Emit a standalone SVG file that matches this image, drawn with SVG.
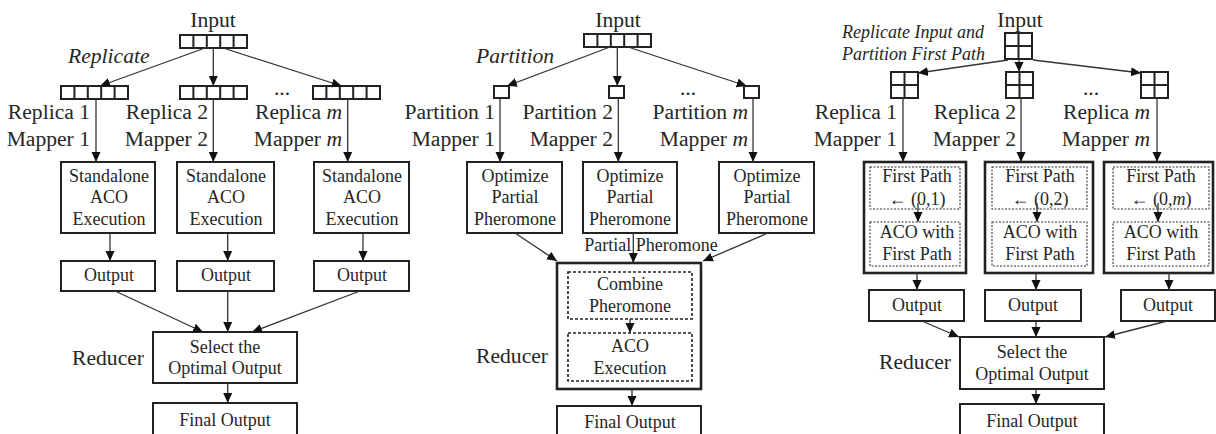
<svg xmlns="http://www.w3.org/2000/svg" width="1216" height="434" viewBox="0 0 1216 434" font-family="'Liberation Serif', 'DejaVu Serif', serif">
  <style>
    text { font-family: 'Liberation Serif', 'DejaVu Serif', serif; fill: #262626; }
    .lbl { font-size: 21.6px; }
    .box-t { font-size: 18px; text-anchor: middle; }
    .it { font-style: italic; }
    .sm { font-size: 18px; }
    .mid { text-anchor: middle; }
    .end { text-anchor: end; }
    .box { fill: #fff; stroke: #222; stroke-width: 2; }
    .outer { fill: #fff; stroke: #222; stroke-width: 2.6; }
    .dash { fill: none; stroke: #222; stroke-width: 1.6; stroke-dasharray: 3 2; }
    .dot { fill: none; stroke: #333; stroke-width: 1.1; stroke-dasharray: 2 1.5; }
    .cell { fill: #fff; stroke: #222; stroke-width: 2; }
    .conn line { stroke: #333; stroke-width: 1.3; marker-end: url(#ah); }
  </style>
  <defs>
    <marker id="ah" viewBox="0 0 10 10" refX="10" refY="5" markerWidth="10" markerHeight="10" markerUnits="userSpaceOnUse" orient="auto">
      <path d="M0,0.5 L10,5 L0,9.5 z" fill="#111"/>
    </marker>
    <!-- five-cell data array -->
    <g id="arr5">
      <rect class="cell" x="0" y="0" width="67" height="13"/>
      <path d="M13.4,0V13M26.8,0V13M40.2,0V13M53.6,0V13" stroke="#222" stroke-width="2" fill="none"/>
    </g>
    <!-- single partition cell -->
    <rect id="sq" class="cell" x="0" y="0" width="15" height="12"/>
    <!-- 2x2 grid -->
    <g id="grid">
      <rect class="cell" x="0" y="0" width="27" height="26"/>
      <path d="M13.5,0V26M0,13H27" stroke="#222" stroke-width="2" fill="none"/>
    </g>
  </defs>

  <!-- ===== Replicate scheme ===== -->
  <g id="p1-input">
    <text class="lbl mid" x="213" y="27">Input</text>
    <use href="#arr5" x="180" y="35"/>
  </g>
  <text id="p1-op" class="lbl it" x="68" y="63">Replicate</text>
  <g id="p1-rep1">
    <use href="#arr5" x="61" y="86"/>
    <text class="lbl end" x="90" y="119">Replica 1</text>
    <text class="lbl end" x="90" y="146">Mapper 1</text>
  </g>
  <g id="p1-rep2">
    <use href="#arr5" x="180" y="86"/>
    <text class="lbl end" x="208" y="119">Replica 2</text>
    <text class="lbl end" x="208" y="146">Mapper 2</text>
  </g>
  <text id="p1-dots" class="lbl mid" x="282" y="95">...</text>
  <g id="p1-repm">
    <use href="#arr5" x="313" y="86"/>
    <text class="lbl end" x="342" y="119">Replica <tspan class="it">m</tspan></text>
    <text class="lbl end" x="342" y="146">Mapper <tspan class="it">m</tspan></text>
  </g>
  <g id="p1-aco1">
    <rect class="box" x="61" y="162" width="94" height="71"/>
    <text class="box-t" x="109" y="182">Standalone</text>
    <text class="box-t" x="109" y="203">ACO</text>
    <text class="box-t" x="109" y="225">Execution</text>
  </g>
  <g id="p1-aco2">
    <rect class="box" x="177" y="162" width="97" height="71"/>
    <text class="box-t" x="226" y="182">Standalone</text>
    <text class="box-t" x="226" y="203">ACO</text>
    <text class="box-t" x="226" y="225">Execution</text>
  </g>
  <g id="p1-aco3">
    <rect class="box" x="314" y="162" width="95" height="71"/>
    <text class="box-t" x="362" y="182">Standalone</text>
    <text class="box-t" x="362" y="203">ACO</text>
    <text class="box-t" x="362" y="225">Execution</text>
  </g>
  <g id="p1-out1"><rect class="box" x="61" y="261" width="94" height="30"/><text class="box-t" x="109" y="281">Output</text></g>
  <g id="p1-out2"><rect class="box" x="177" y="261" width="97" height="30"/><text class="box-t" x="226" y="281">Output</text></g>
  <g id="p1-out3"><rect class="box" x="314" y="261" width="95" height="30"/><text class="box-t" x="362" y="281">Output</text></g>
  <g id="p1-reducer">
    <text class="lbl end" x="144" y="365">Reducer</text>
    <rect class="box" x="153" y="332" width="144" height="51"/>
    <text class="box-t" x="225" y="353">Select the</text>
    <text class="box-t" x="225" y="374">Optimal Output</text>
  </g>
  <g id="p1-final">
    <rect class="box" x="153" y="403" width="144" height="40"/>
    <text class="box-t" x="225" y="426">Final Output</text>
  </g>

  <!-- ===== Partition scheme ===== -->
  <g id="p2-input">
    <text class="lbl mid" x="618" y="27">Input</text>
    <use href="#arr5" x="584" y="34"/>
  </g>
  <text id="p2-op" class="lbl it" x="476" y="63">Partition</text>
  <g id="p2-part1">
    <use href="#sq" x="494" y="86"/>
    <text class="lbl end" x="495" y="119">Partition 1</text>
    <text class="lbl end" x="495" y="146">Mapper 1</text>
  </g>
  <g id="p2-part2">
    <use href="#sq" x="609" y="86"/>
    <text class="lbl end" x="613" y="119">Partition 2</text>
    <text class="lbl end" x="613" y="146">Mapper 2</text>
  </g>
  <text id="p2-dots" class="lbl mid" x="688" y="95">...</text>
  <g id="p2-partm">
    <use href="#sq" x="744" y="86"/>
    <text class="lbl end" x="748" y="119">Partition <tspan class="it">m</tspan></text>
    <text class="lbl end" x="748" y="146">Mapper <tspan class="it">m</tspan></text>
  </g>
  <g id="p2-opt1">
    <rect class="box" x="467" y="162" width="95" height="71"/>
    <text class="box-t" x="515" y="182">Optimize</text>
    <text class="box-t" x="515" y="203">Partial</text>
    <text class="box-t" x="515" y="225">Pheromone</text>
  </g>
  <g id="p2-opt2">
    <rect class="box" x="583" y="162" width="94" height="71"/>
    <text class="box-t" x="630" y="182">Optimize</text>
    <text class="box-t" x="630" y="203">Partial</text>
    <text class="box-t" x="630" y="225">Pheromone</text>
  </g>
  <g id="p2-opt3">
    <rect class="box" x="719" y="162" width="95" height="71"/>
    <text class="box-t" x="767" y="182">Optimize</text>
    <text class="box-t" x="767" y="203">Partial</text>
    <text class="box-t" x="767" y="225">Pheromone</text>
  </g>
  <text id="p2-flow-label" class="box-t" x="651" y="251">Partial Pheromone</text>
  <g id="p2-reducer">
    <text class="lbl end" x="548" y="363">Reducer</text>
    <rect class="outer" x="557" y="263" width="144" height="126"/>
    <rect class="dash" x="568" y="272" width="124" height="47"/>
    <text class="box-t" x="630" y="290">Combine</text>
    <text class="box-t" x="630" y="312">Pheromone</text>
    <rect class="dash" x="568" y="333" width="124" height="48"/>
    <text class="box-t" x="630" y="352">ACO</text>
    <text class="box-t" x="630" y="374">Execution</text>
  </g>
  <g id="p2-final">
    <rect class="box" x="557" y="406" width="144" height="40"/>
    <text class="box-t" x="630" y="428">Final Output</text>
  </g>

  <!-- ===== Replicate + first-path partition scheme ===== -->
  <g id="p3-input">
    <text class="lbl mid" x="1020" y="27">Input</text>
    <use href="#grid" x="1005" y="33"/>
  </g>
  <g id="p3-op">
    <text class="sm it" x="842" y="38">Replicate Input and</text>
    <text class="sm it" x="842" y="60">Partition First Path</text>
  </g>
  <g id="p3-rep1">
    <use href="#grid" x="891" y="72"/>
    <text class="lbl end" x="897" y="119">Replica 1</text>
    <text class="lbl end" x="897" y="146">Mapper 1</text>
  </g>
  <g id="p3-rep2">
    <use href="#grid" x="1006" y="72"/>
    <text class="lbl end" x="1016" y="119">Replica 2</text>
    <text class="lbl end" x="1016" y="146">Mapper 2</text>
  </g>
  <text id="p3-dots" class="lbl mid" x="1091" y="95">...</text>
  <g id="p3-repm">
    <use href="#grid" x="1141" y="72"/>
    <text class="lbl end" x="1150" y="119">Replica <tspan class="it">m</tspan></text>
    <text class="lbl end" x="1150" y="146">Mapper <tspan class="it">m</tspan></text>
  </g>
  <g id="p3-map1">
    <rect class="outer" x="864" y="162" width="102" height="111"/>
    <rect class="dot" x="870" y="167" width="90" height="42"/>
    <text class="box-t" x="917" y="182">First Path</text>
    <text class="box-t" x="917" y="205">← (0,1)</text>
    <rect class="dot" x="870" y="222" width="90" height="44"/>
    <text class="box-t" x="917" y="238">ACO with</text>
    <text class="box-t" x="917" y="260">First Path</text>
  </g>
  <g id="p3-map2">
    <rect class="outer" x="985" y="162" width="108" height="111"/>
    <rect class="dot" x="992" y="167" width="95" height="42"/>
    <text class="box-t" x="1040" y="182">First Path</text>
    <text class="box-t" x="1040" y="205">← (0,2)</text>
    <rect class="dot" x="992" y="222" width="95" height="44"/>
    <text class="box-t" x="1040" y="238">ACO with</text>
    <text class="box-t" x="1040" y="260">First Path</text>
  </g>
  <g id="p3-mapm">
    <rect class="outer" x="1104" y="162" width="109" height="111"/>
    <rect class="dot" x="1113" y="167" width="96" height="42"/>
    <text class="box-t" x="1161" y="182">First Path</text>
    <text class="box-t" x="1161" y="205">← (0,<tspan class="it">m</tspan>)</text>
    <rect class="dot" x="1113" y="222" width="96" height="44"/>
    <text class="box-t" x="1161" y="238">ACO with</text>
    <text class="box-t" x="1161" y="260">First Path</text>
  </g>
  <g id="p3-out1"><rect class="box" x="869" y="290" width="95" height="31"/><text class="box-t" x="917" y="311">Output</text></g>
  <g id="p3-out2"><rect class="box" x="985" y="290" width="96" height="31"/><text class="box-t" x="1033" y="311">Output</text></g>
  <g id="p3-out3"><rect class="box" x="1121" y="290" width="94" height="31"/><text class="box-t" x="1168" y="311">Output</text></g>
  <g id="p3-reducer">
    <text class="lbl end" x="951" y="369">Reducer</text>
    <rect class="box" x="960" y="337" width="144" height="52"/>
    <text class="box-t" x="1032" y="358">Select the</text>
    <text class="box-t" x="1032" y="380">Optimal Output</text>
  </g>
  <g id="p3-final">
    <rect class="box" x="960" y="404" width="144" height="40"/>
    <text class="box-t" x="1032" y="427">Final Output</text>
  </g>

  <!-- ===== connectors ===== -->
  <g id="connectors" class="conn">
    <!-- replicate scheme -->
    <line x1="205" y1="48" x2="100" y2="86"/>
    <line x1="213.3" y1="48" x2="213.3" y2="86"/>
    <line x1="223" y1="48" x2="341.7" y2="86"/>
    <line x1="96" y1="99" x2="96" y2="162"/>
    <line x1="213.3" y1="99" x2="213.3" y2="162"/>
    <line x1="347.7" y1="99" x2="347.7" y2="162"/>
    <line x1="110" y1="233" x2="110" y2="261"/>
    <line x1="227.7" y1="233" x2="227.7" y2="261"/>
    <line x1="363" y1="233" x2="363" y2="261"/>
    <line x1="115" y1="291" x2="203" y2="332"/>
    <line x1="227.7" y1="291" x2="227.7" y2="332"/>
    <line x1="360" y1="291" x2="252" y2="332"/>
    <line x1="227.7" y1="383" x2="227.7" y2="403"/>
    <!-- partition scheme -->
    <line x1="610" y1="47" x2="507" y2="86"/>
    <line x1="617.3" y1="47" x2="617.3" y2="86"/>
    <line x1="628" y1="47" x2="746.7" y2="86"/>
    <line x1="500" y1="98" x2="500" y2="162"/>
    <line x1="618.3" y1="98" x2="618.3" y2="162"/>
    <line x1="753" y1="98" x2="753" y2="162"/>
    <line x1="515" y1="233" x2="557" y2="261"/>
    <line x1="633.3" y1="233" x2="633.3" y2="263"/>
    <line x1="768" y1="233" x2="703" y2="261"/>
    <line x1="630" y1="319" x2="630" y2="333"/>
    <line x1="632" y1="389" x2="632" y2="406"/>
    <!-- replicate + first-path scheme -->
    <line x1="1008" y1="60" x2="918" y2="73"/>
    <line x1="1019" y1="60" x2="1019" y2="72"/>
    <line x1="1033" y1="60" x2="1141" y2="73"/>
    <line x1="903" y1="97" x2="903" y2="162"/>
    <line x1="1021" y1="97" x2="1021" y2="162"/>
    <line x1="1157" y1="97" x2="1157" y2="162"/>
    <line x1="918" y1="203" x2="918" y2="222"/>
    <line x1="1037" y1="203" x2="1037" y2="222"/>
    <line x1="1158" y1="203" x2="1158" y2="222"/>
    <line x1="917" y1="273" x2="917" y2="290"/>
    <line x1="1036" y1="273" x2="1036" y2="290"/>
    <line x1="1169" y1="273" x2="1169" y2="290"/>
    <line x1="922" y1="321" x2="959" y2="337"/>
    <line x1="1036" y1="321" x2="1036" y2="337"/>
    <line x1="1167" y1="321" x2="1105" y2="337"/>
    <line x1="1036" y1="389" x2="1036" y2="404"/>
  </g>
</svg>
